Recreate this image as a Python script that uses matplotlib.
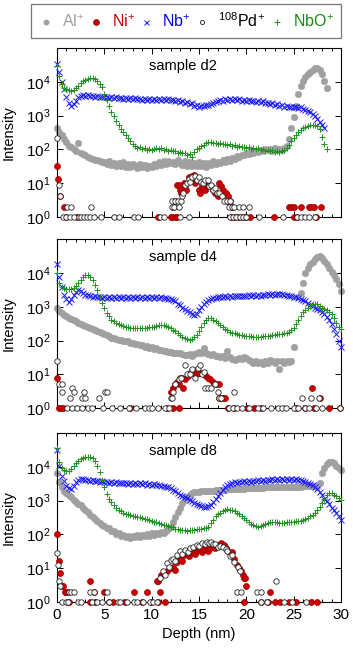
import numpy as np
import matplotlib
matplotlib.use('Agg')
import matplotlib.pyplot as plt
from matplotlib.lines import Line2D
from matplotlib.ticker import MultipleLocator, FixedLocator, LogLocator, NullFormatter

plt.rcParams['font.family'] = ['Liberation Sans', 'DejaVu Sans']
plt.rcParams['mathtext.fontset'] = 'custom'
plt.rcParams['mathtext.rm'] = 'Liberation Sans'
plt.rcParams['mathtext.it'] = 'Liberation Sans:italic'
plt.rcParams['mathtext.bf'] = 'Liberation Sans:bold'

# ---------------- data ----------------
STEP = 0.25  # depth sampling of the continuous signals (nm)
samples = ['sample d2', 'sample d4', 'sample d8']
species = ['Al$^{+}$', 'Ni$^{+}$', 'Nb$^{+}$', '$^{108}$Pd$^{+}$', 'NbO$^{+}$']
x_ticks = [0, 5, 10, 15, 20, 25, 30]
y_ticks = [1, 10, 100, 1000, 10000]
nan = float('nan')

# sample d2
al_d2 = [420, 330, 260, 200, 160, 130, 115, 100, 90, 150, 78, 72, 66, 60, 56, 52, 49, 47, 44, 42,
         42, 36, 44, 34, 40, 31, 38, 33, 42, 30, 36, 29, 37, 31, 28, 36, 30, 34, 27, 33,
         30, 37, 32, 42, 35, 44, 36, 46, 38, 43, 36, 47, 40, 34, 44, 33, 41, 32, 39, 31,
         42, 33, 38, 30, 40, 34, 44, 36, 42, 38, 47, 41, 50,
         46, 55, 52, 62, 58, 70, 66, 78, 72, 86, 80, 92, 85, 98, 90, 104, 94, 100, 92, 106,
         96, 102, 98, 112, 125,
         200, 420, 900, 2000, 4300, 7500, 11000, 14000, 17000, 20000, 23000, 26000, 26000,
         22000, 17000, 11000, 6500]
nb_d2 = [35000, 20000, 10000, 6000, 3600, 2400, 2000, 2200, 2800, 3500,
         3900, 4100, 3900, 4000, 3800, 3900, 3700, 3800, 3600, 3700,
         3500, 3600, 3400, 3600, 3300, 3500, 3300, 3400, 3200, 3400,
         3200, 3300, 3100, 3300, 3100, 3200, 3000, 3200, 3000, 3200,
         3000, 3200, 3000, 3200, 3000, 3200, 2900, 3100, 2900, 3000,
         2800, 2900, 2600, 2700, 2400, 2500, 2200, 2300, 2000, 2100,
         1850, 1950, 1900, 2050, 2050, 2250, 2350, 2550, 2650, 2850,
         2800, 3050, 2900, 3100, 2900, 3100, 2900, 3050, 2800, 3000,
         2800, 2900, 2700, 2800, 2600, 2750, 2500, 2650, 2350, 2400,
         2250, 2300, 2050, 2150, 1950, 2050, 1850, 1950, 1850, 1850,
         1750, 1850, 1650, 1750, 1550, 1500, 1400, 1250, 1100, 950,
         800, 650, 530, 420]
nbo_d2 = [29000, 15000, 9000, 6800, 6000, 5600, 5500, 5800, 6600, 7800,
          9200, 10500, 11500, 12500, 13500, 13500, 12500, 11000, 9000, 7000,
          4500, 2900, 1900, 1300, 950, 700, 520, 400, 320, 260,
          210, 175, 140, 128, 112, 115, 100, 108, 96, 104,
          95, 102, 108, 104, 110, 98, 102, 92, 96, 88,
          88, 80, 84, 76, 78, 70, 72, 58, 82, 100,
          112, 130, 138, 158, 162, 165, 150, 156, 146, 152,
          140, 148, 138, 142, 128, 132, 120, 126, 114, 118,
          108, 114, 104, 110, 100, 106, 96, 102, 92, 98,
          88, 94, 84, 90, 82, 90, 96, 112, 138, 180,
          220, 270, 320, 370, 420, 470, 510, 530, 540, 530,
          490, 400, 230, 140, 105]
ni_d2_depth = [0.0, 0.15, 0.35, 0.7, 0.9, 2.1, 10.7, 12.0, 12.2, 12.45, 12.65,
               12.3, 12.5, 12.7, 12.85, 13.0, 13.1, 13.2, 13.4, 13.5, 13.6, 13.9, 14.1, 14.3, 14.45,
               14.6, 14.8, 15.0, 15.1, 15.3, 15.5, 15.6, 15.8, 16.0, 16.3, 16.5, 16.7, 17.0, 17.1,
               17.3, 17.5, 17.8, 18.0, 18.1, 18.3, 18.5,
               18.4, 18.8, 19.2, 19.6, 20.0, 20.4, 22.9, 24.5, 24.7, 25.0, 25.0, 25.3, 25.8, 26.6,
               26.85, 27.1, 27.4, 27.9]
ni_d2_count = [32, 13, 4, 2, 1, 1, 1, 1, 1, 1, 1,
               2, 3, 9, 9, 6, 5, 7, 10, 8, 6, 15, 12, 16, 17,
               10, 12, 6, 5, 8, 7, 6, 9, 8, 8, 6, 5, 4, 10,
               8, 6, 5, 3, 4, 3, 2,
               1, 1, 1, 1, 1, 1, 1, 2, 2, 2, 1, 1, 2, 2,
               2, 2, 1, 2]
pd_d2_depth = [0.05, 0.2, 0.35, 1.05, 1.5, 3.6,
               0.6, 0.9, 1.4, 1.75, 2.3, 2.5, 2.8, 3.2, 3.5, 3.9, 4.6, 6.0, 6.5, 8.1, 8.6, 10.9,
               11.3, 13.0, 13.9, 18.3, 18.6, 18.9, 19.3, 19.6, 20.0, 21.3, 23.9, 25.3, 25.8, 26.2,
               26.6, 27.3,
               12.1, 12.1, 12.4, 12.5, 12.8, 12.9, 13.1, 13.2, 13.35, 13.5, 13.7, 13.9, 14.1, 14.3,
               14.6, 14.8, 15.0, 15.2, 15.4, 15.6, 15.9, 16.1, 16.3, 16.5, 16.7, 16.9, 17.1, 17.4,
               17.6, 18.0, 18.2, 18.5, 18.7,
               18.3, 19.2, 19.6, 20.3]
pd_d2_count = [210, 9, 4, 2, 2, 2,
               1, 1, 1, 1, 1, 1, 1, 1, 1, 1, 1, 1, 1, 1, 1, 1,
               1, 1, 1, 1, 1, 1, 1, 1, 1, 1, 1, 1, 1, 1,
               1, 1,
               3, 2, 2, 3, 3, 2, 3, 4, 5, 9, 10, 13, 11, 15,
               16, 12, 15, 11, 10, 12, 12, 8, 9, 6, 7, 5, 5, 4,
               3, 3, 2, 2, 2,
               3, 2, 2, 2]

# sample d4
al_d4 = [900, 750, 650, 580, 520, 480, 440, 410, 380, 340,
         315, 295, 270, 255, 240, 225, 210, 195, 180, 170,
         155, 145, 135, 122, 115, 110, 106, 102, 98, 95,
         94, 86, 86, 78, 79, 72, 74, 66, 68, 62,
         64, 58, 59, 52, 54, 48, 50, 45, 47, 42,
         43, 42, 42, 40, 38, 37, 39, 36, 40, 43,
         47, 44, 59, 42, 40, 38, 40, 36, 34, 33,
         36, 30, 50, 32, 28, 26, 29, 31, 28, 33,
         30, 26, 24, 22, 25, 21, 23, 20, 24, 22,
         26, 25, 22, 24, 14, 24, 22, 25, 23, 25,
         63, nan, nan, 2500, 5000, 10000, 14000, 18000, 22000, 26000,
         30000, 31000, 28000, 23000, 18000, 14000, 11000, 8500, 6500, 4800,
         3000]
nb_d4 = [19000, 7500, 3800, 2300, 1700, 1400, 1750, 2200, 2700, 3200,
         3000, 2600, 2300, 2200, 2100, 2000, 2050, 1900, 2000, 1850,
         2000, 1850, 1950, 1850, 2000, 1850, 1950, 1800, 2000, 1850,
         1950, 1850, 2000, 1850, 1950, 1850, 2000, 1850, 1950, 1850,
         1950, 1850, 1950, 1850, 1900, 1800, 1800, 1700, 1700, 1600,
         1450, 1250, 1100, 950, 850, 760, 680, 600, 570, 630,
         820, 1000, 1200, 1400, 1550, 1700, 1800, 1850, 1900, 1950,
         1950, 2050, 1950, 2100, 2000, 2100, 2050, 2150, 2050, 2150,
         2100, 2200, 2100, 2250, 2150, 2250, 2150, 2300, 2200, 2350,
         2250, 2350, 2300, 2400, 2350, 2450, 2300, 2250, 2100, 2050,
         2000, 1900, 1800, 1700, 1600, 1450, 1300, 1150, 1050, 950,
         880, 800, 700, 600, 510, 400, 300, 220, 160, 100,
         65]
nbo_d4 = [9800, 5000, 3800, 3500, 3300, 3300, 3400, 3700, 4200, 5000,
          6200, 7500, 8500, 8800, 7800, 6200, 4300, 3100, 2000, 1300,
          900, 660, 520, 420, 370, 330, 300, 280, 265, 255,
          245, 240, 235, 230, 230, 228, 230, 232, 238, 245,
          252, 260, 270, 282, 290, 292, 270, 250, 230, 210,
          190, 165, 145, 130, 118, 108, 105, 110, 125, 150,
          190, 250, 320, 400, 450, 460, 420, 370, 320, 290,
          255, 225, 205, 185, 172, 165, 155, 148, 142, 138,
          135, 133, 132, 130, 130, 130, 130, 132, 135, 138,
          140, 145, 148, 152, 155, 160, 163, 165, 175, 200,
          240, 300, 420, 550, 680, 820, 950, 1100, 1200, 1250,
          1200, 1050, 950, 870, 800, 700, 600, 480, 330, 260,
          220]
ni_d4_depth = [0.05, 0.2, 0.4, 0.6, 7.7, 11.6, 12.3, 12.9,
               12.0, 12.15, 12.3, 12.5, 12.65, 12.85, 13.0, 13.2, 13.3, 13.5, 13.8, 14.0, 14.2,
               14.5, 14.7, 14.85, 15.0, 15.3, 15.5, 15.7, 15.9, 16.2, 16.5, 16.8, 17.1, 17.1,
               17.3, 17.5, 17.7,
               18.1, 18.7, 20.1, 20.8, 21.5, 25.2, 26.2, 26.9, 27.2, 27.8, 28.7, 29.9]
ni_d4_count = [8, 1, 1, 1, 1, 1, 1, 1,
               3, 3, 4, 5, 6, 5, 8, 8, 4, 7, 9, 11, 11,
               12, 13, 11, 11, 11, 10, 9, 8, 7, 6, 5, 5, 2,
               2, 2, 2,
               1, 1, 1, 1, 1, 1, 1, 4, 1, 2, 1, 1]
pd_d4_depth = [0.05, 0.2, 0.5, 0.5, 1.4, 1.6, 1.75, 2.6, 2.9, 3.0, 4.4, 5.1, 5.3,
               1.05, 1.6, 2.1, 2.6, 3.3, 3.7, 4.9, 5.8, 6.7, 7.6, 8.3, 9.3, 9.7, 10.0, 10.7,
               11.4, 11.8, 18.2, 18.6, 19.0, 19.5, 20.3, 21.2, 21.8, 22.6, 23.3, 23.8, 24.2,
               25.0, 25.5, 26.2, 26.6, 27.4, 28.0, 29.9,
               12.0, 12.2, 12.3, 12.5, 12.9, 13.1, 13.55, 13.7, 14.0, 14.3, 14.6, 14.9, 15.1,
               15.3, 15.5, 15.6, 15.9, 16.3, 16.7, 17.0, 17.1, 17.3, 18.7,
               25.9, 26.8, 27.7]
pd_d4_count = [25, 5, 5, 3, 2, 4, 3, 2, 3, 2, 2, 3, 3,
               1, 1, 1, 1, 1, 1, 1, 1, 1, 1, 1, 1, 1, 1, 1,
               1, 1, 1, 1, 1, 1, 1, 1, 1, 1, 1, 1, 1,
               1, 1, 1, 1, 1, 1, 1,
               2, 2, 3, 5, 7, 8, 19, 10, 10, 14, 8, 15, 19,
               10, 12, 4, 4, 4, 5, 3, 2, 2, 3,
               2, 2, 2]

# sample d8
al_d8 = [6500, 3500, 2500, 2000, 1700, 1450, 1250, 1050, 920, 820,
         720, 620, 530, 450, 380, 330, 280, 245, 215, 195,
         175, 155, 150, 125, 122, 100, 108, 90, 98, 82,
         92, 80, 90, 82, 95, 84, 98, 88, 100, 92,
         106, 96, 112, 104, 118, 110, 125, 140, 170, 240,
         330, 450, 620, 850, 1050, 1300, 1500, 1650, 1750, 1800,
         1850, 1880, 1900, 1920, 1950, 1980, 2000, 2030, 2060, 2100,
         2120, 2140, 2160, 2180, 2200, 2200, 2220, 2240, 2260, 2280,
         2300, 2300, 2320, 2350, 2380, 2400, 2420, 2450, 2480, 2500,
         2520, 2540, 2560, 2580, 2600, 2600, 2600, 2620, 2620, 2620,
         2620, 2600, 2600, 2620, 2650, 2680, 2700, 2700, 2680, 2650,
         2600, 3300, 6500, 9500, 12500, 14000, 14500, 13000, 11000, 9100,
         8000]
nb_d8 = [32000, 11000, 5500, 3800, 2800, 2300, 2200, 2800, 3700, 4200,
         4300, 4400, 4100, 4200, 3900, 4000, 3750, 3900, 3600, 3750,
         3500, 3650, 3400, 3600, 3350, 3550, 3300, 3450, 3250, 3450,
         3200, 3400, 3200, 3350, 3100, 3300, 3050, 3250, 3000, 3200,
         2950, 3100, 2850, 3000, 2800, 2800, 2600, 2600, 2300, 2100,
         1900, 1700, 1500, 1400, 1280, 1180, 1080, 970, 880, 800,
         740, 690, 650, 630, 680, 760, 900, 1100, 1350, 1700,
         2050, 2500, 2900, 3200, 3300, 3550, 3400, 3650, 3500, 3750,
         3600, 3800, 3650, 3900, 3750, 4000, 3850, 4100, 3900, 4150,
         4000, 4250, 4100, 4350, 4200, 4400, 4200, 4400, 4200, 4350,
         4100, 4300, 4000, 4100, 3850, 3650, 3400, 3150, 2850, 2550,
         2250, 1850, 1500, 1150, 950, 800, 620, 520, 440, 360,
         265]
nbo_d8 = [36000, 14000, 9500, 8000, 7400, 7800, 9000, 11000, 13000, 15500,
          17000, 18500, 19500, 20000, 20000, 18500, 15000, 10500, 7000, 4100,
          2500, 1600, 1150, 900, 740, 620, 530, 480, 440, 410,
          390, 370, 355, 345, 335, 320, 305, 295, 280, 265,
          250, 238, 225, 210, 198, 190, 185, 178, 170, 160,
          148, 140, 135, 132, 135, 130, 135, 138, 136, 140,
          142, 146, 150, 158, 170, 210, 270, 340, 400, 440,
          490, 530, 550, 545, 530, 500, 440, 390, 340, 300,
          270, 235, 205, 185, 175, 170, 172, 185, 200, 215,
          228, 238, 235, 228, 222, 218, 220, 225, 230, 235,
          240, 243, 247, 252, 262, 285, 310, 340, 370, 420,
          520, 640, 850, 1150, 1450, 1650, 1650, 1500, 1350, 1200,
          1050]
ni_d8_depth = [0.0, 0.18, 0.35, 0.5, 0.65, 0.8, 0.95, 1.1, 1.3, 3.5, 3.9, 5.0, 8.1, 9.5, 10.7, 10.9,
               3.5, 4.0, 5.5, 5.9, 7.2, 9.0, 9.9, 10.7, 11.4,
               10.6, 11.0, 11.3, 11.6, 12.0, 12.3, 12.5, 12.7, 13.0, 13.2, 13.4, 13.7, 13.9, 14.1,
               14.4, 14.6, 14.8, 15.1, 15.3, 15.5, 15.8, 16.0, 16.2, 16.5, 16.7, 16.9, 17.1, 17.3,
               17.6, 17.8, 18.0, 18.3, 18.5, 18.7, 19.0, 19.2, 19.4, 19.6, 19.8, 19.9, 20.0, 22.5,
               19.8, 21.6, 22.3, 23.0, 23.6, 24.5, 25.2, 26.8, 27.5]
ni_d8_count = [100, 16, 7, 3, 3, 2, 2, 2, 1, 4, 2, 2, 2, 2, 4, 2,
               1, 1, 1, 1, 1, 1, 1, 1, 1,
               4, 6, 7, 8, 10, 11, 9, 15, 19, 16, 24, 27, 22, 28,
               30, 26, 33, 34, 30, 36, 38, 33, 40, 43, 38, 48, 44, 54,
               48, 40, 34, 27, 30, 19, 12, 10, 8, 6, 5, 5, 3, 2,
               1, 1, 1, 1, 1, 1, 1, 1, 1]
pd_d8_depth = [0.0, 0.07, 0.2, 0.3, 1.3, 1.5, 1.75, 3.5, 3.9, 5.3,
               0.5, 0.9, 1.2, 2.2, 2.5, 3.7, 4.2, 4.7, 5.5, 6.4, 6.7, 7.4, 8.1, 8.4, 9.1, 9.8,
               10.1, 10.6, 21.5, 22.2, 24.0, 24.8, 26.3,
               10.9, 11.2, 11.4, 11.6, 11.8, 12.0, 12.3, 12.5, 12.7, 13.0, 13.2, 13.5, 13.8, 14.1,
               14.4, 14.8, 15.0, 15.3, 15.6, 15.8, 16.1, 16.3, 16.5, 16.7, 17.0, 17.2, 17.5, 17.8,
               18.0, 18.3, 18.5, 18.7, 19.1, 19.3, 19.0, 19.4, 21.1, 21.6, 23.1]
pd_d8_count = [28, 12, 4, 3, 2, 2, 2, 2, 2, 2,
               1, 1, 1, 1, 1, 1, 1, 1, 1, 1, 1, 1, 1, 1, 1, 1,
               1, 1, 1, 1, 1, 1, 1,
               5, 8, 6, 14, 11, 17, 19, 16, 24, 31, 26, 34, 30, 38,
               42, 48, 44, 54, 50, 60, 56, 60, 52, 52, 43, 46, 43, 36,
               31, 22, 25, 15, 11, 8, 2, 2, 2, 2, 4]

panels = [
    (al_d2, nb_d2, nbo_d2, ni_d2_depth, ni_d2_count, pd_d2_depth, pd_d2_count),
    (al_d4, nb_d4, nbo_d4, ni_d4_depth, ni_d4_count, pd_d4_depth, pd_d4_count),
    (al_d8, nb_d8, nbo_d8, ni_d8_depth, ni_d8_count, pd_d8_depth, pd_d8_count),
]

# ---------------- style ----------------
GRAY = '#a0a0a0'
RED = '#cc0000'
BLUE = '#1a1aff'
GREEN = '#1e921e'
text_colors = [GRAY, RED, '#0000ee', 'black', '#108a10']


def grid(values):
    return np.arange(len(values)) * STEP


fig = plt.figure(figsize=(3.53, 6.5), dpi=100)
positions = [[0.1615, 0.6666, 0.8045, 0.2591],
             [0.1615, 0.3723, 0.8045, 0.2595],
             [0.1615, 0.0743, 0.8045, 0.2591]]

for i, (pos, name, data) in enumerate(zip(positions, samples, panels)):
    al, nb, nbo, ni_d, ni_c, pd_d, pd_c = data
    ax = fig.add_axes(pos)
    ax.set_yscale('log')
    ax.plot(grid(al), al, ls='none', marker='o', ms=4.8, mfc=GRAY, mec=GRAY, mew=0.3,
            clip_on=False, zorder=2)
    ax.plot(ni_d, ni_c, ls='none', marker='o', ms=4.3, mfc=RED, mec='#a00000', mew=0.5,
            clip_on=False, zorder=3)
    ax.plot(grid(nb), nb, ls='none', marker='x', ms=4.2, color=BLUE, mew=0.7,
            clip_on=False, zorder=3.1)
    ax.plot(pd_d, pd_c, ls='none', marker='o', ms=3.9, mfc='white', mec='#222222', mew=0.6,
            clip_on=False, zorder=3.2)
    ax.plot(grid(nbo), nbo, ls='none', marker='+', ms=4.8, color=GREEN, mew=0.7,
            clip_on=False, zorder=3.3)

    ax.set_xlim(0, 30)
    ax.set_ylim(1, 1e5)
    ax.xaxis.set_major_locator(FixedLocator(x_ticks))
    ax.xaxis.set_minor_locator(MultipleLocator(1))
    ax.yaxis.set_major_locator(FixedLocator(y_ticks))
    ax.yaxis.set_minor_locator(LogLocator(base=10, subs=np.arange(2, 10)))
    ax.yaxis.set_minor_formatter(NullFormatter())
    ax.tick_params(which='both', direction='in', top=True, right=True, width=0.7,
                   labelsize=11)
    ax.tick_params(which='major', length=4.5)
    ax.tick_params(which='minor', length=2.3)
    ax.tick_params(axis='y', pad=4.5)
    ax.tick_params(axis='x', pad=4.5)
    for s in ax.spines.values():
        s.set_linewidth(0.8)
    if i < 2:
        ax.set_xticklabels([])
    else:
        ax.set_xlabel('Depth (nm)', fontsize=10.5, labelpad=3.5)
    ax.set_ylabel('Intensity', fontsize=10.5)
    ax.yaxis.set_label_coords(-0.146, 0.5)
    ax.text(0.4437, 0.893, name, transform=ax.transAxes, ha='center', va='center',
            fontsize=10.5)

handles = [
    Line2D([], [], ls='none', marker='o', ms=3.2, mfc=GRAY, mec=GRAY),
    Line2D([], [], ls='none', marker='o', ms=3.8, mfc=RED, mec='#a00000'),
    Line2D([], [], ls='none', marker='x', ms=3.6, color=BLUE, mew=0.7),
    Line2D([], [], ls='none', marker='o', ms=3.0, mfc='white', mec='#222222', mew=0.6),
    Line2D([], [], ls='none', marker='+', ms=4.2, color=GREEN, mew=0.7),
]
leg = fig.legend(handles, species, loc='center',
                 bbox_to_anchor=(0.0878, 0.9415, 0.878, 0.0523), mode='expand', ncol=5,
                 frameon=True, fancybox=False, fontsize=11.5, handlelength=1.0,
                 handletextpad=0.5, borderpad=0.45, columnspacing=0.5, borderaxespad=0)
leg.get_frame().set_edgecolor('#555555')
leg.get_frame().set_linewidth(0.9)
for t, c in zip(leg.get_texts(), text_colors):
    t.set_color(c)

fig.savefig('out.png', dpi=100)
